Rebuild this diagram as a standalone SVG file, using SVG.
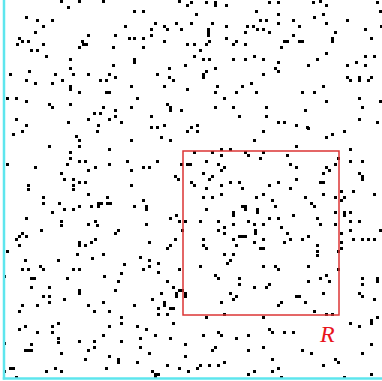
<svg xmlns="http://www.w3.org/2000/svg" width="382" height="381" viewBox="0 0 382 381">
<style>
.pts{fill:#000}
.axis{stroke:#5ee6ee;stroke-width:2.5;fill:none}
.reg{stroke:#dc3535;stroke-width:1.5;fill:none}
.lbl{font-family:"Liberation Serif",serif;font-style:italic;font-size:24px;fill:#e8141c}
</style>
<rect width="382" height="381" fill="#fff"/>
<g id="points">
<path class="pts" d="M60 0h3v3h-3z M67 6h3v3h-3z M78 0h3v3h-3z M102 0h3v3h-3z M25 16h3v3h-3z M36 19h3v3h-3z M42 25h3v3h-3z M51 19h3v3h-3z M124 25h3v3h-3z M34 31h3v3h-3z M18 37h3v3h-3z M21 40h3v3h-3z M27 40h3v3h-3z M16 43h3v3h-3z M42 43h3v3h-3z M87 34h3v3h-3z M81 40h3v3h-3z M82 43h3v3h-3z M85 43h3v3h-3z M78 46h3v3h-3z M114 34h3v3h-3z M112 46h3v3h-3z M30 49h3v3h-3z M36 49h3v3h-3z M45 55h3v3h-3z M69 58h3v3h-3z M69 67h3v3h-3z M112 64h3v3h-3z M28 70h3v3h-3z M9 73h3v3h-3z M54 73h3v3h-3z M72 73h3v3h-3z M87 73h3v3h-3z M108 73h3v3h-3z M114 76h3v3h-3z M25 79h3v3h-3z M61 79h3v3h-3z M99 79h3v3h-3z M105 79h3v3h-3z M34 82h3v3h-3z M51 82h3v3h-3z M69 85h3v3h-3z M69 88h3v3h-3z M78 91h3v3h-3z M105 91h3v3h-3z M108 91h3v3h-3z M6 97h3v3h-3z M15 97h3v3h-3z M25 100h3v3h-3z M48 103h3v3h-3z M51 106h3v3h-3z M69 103h3v3h-3z M102 106h3v3h-3z M114 109h3v3h-3z M93 112h3v3h-3z M99 112h3v3h-3z M114 115h3v3h-3z M15 118h3v3h-3z M87 118h3v3h-3z M108 118h3v3h-3z M120 121h3v3h-3z M67 121h3v3h-3z M25 124h3v3h-3z M97 124h3v3h-3z
M178 0h3v3h-3z M186 4h3v3h-3z M190 1h3v3h-3z M205 1h3v3h-3z M214 1h3v3h-3z M214 4h3v3h-3z M225 4h3v3h-3z M133 10h3v3h-3z M142 10h3v3h-3z M195 13h3v3h-3z M255 10h3v3h-3z M154 22h3v3h-3z M163 25h3v3h-3z M166 28h3v3h-3z M175 22h3v3h-3z M180 28h3v3h-3z M190 22h3v3h-3z M211 22h3v3h-3z M225 25h3v3h-3z M246 25h3v3h-3z M252 25h3v3h-3z M150 28h3v3h-3z M150 34h3v3h-3z M207 28h3v3h-3z M207 31h3v3h-3z M207 34h3v3h-3z M244 31h3v3h-3z M133 37h3v3h-3z M142 37h3v3h-3z M128 37h3v3h-3z M225 37h3v3h-3z M163 40h3v3h-3z M186 43h3v3h-3z M193 43h3v3h-3z M205 43h3v3h-3z M208 40h3v3h-3z M232 43h3v3h-3z M235 40h3v3h-3z M244 43h3v3h-3z M142 46h3v3h-3z M199 49h3v3h-3z M193 55h3v3h-3z M202 58h3v3h-3z M208 58h3v3h-3z M232 58h3v3h-3z M244 58h3v3h-3z M253 55h3v3h-3z M133 58h3v3h-3z M133 61h3v3h-3z M184 64h3v3h-3z M168 67h3v3h-3z M214 67h3v3h-3z M205 70h3v3h-3z M202 73h3v3h-3z M202 76h3v3h-3z M156 73h3v3h-3z M168 76h3v3h-3z M172 79h3v3h-3z M130 85h3v3h-3z M163 85h3v3h-3z M186 88h3v3h-3z M216 85h3v3h-3z M214 91h3v3h-3z M235 91h3v3h-3z M241 85h3v3h-3z M250 82h3v3h-3z M255 91h3v3h-3z M136 97h3v3h-3z M223 97h3v3h-3z M130 106h3v3h-3z M166 103h3v3h-3z M169 106h3v3h-3z M169 109h3v3h-3z M180 109h3v3h-3z M214 106h3v3h-3z M232 106h3v3h-3z M238 115h3v3h-3z M150 115h3v3h-3z M150 126h3v3h-3z M156 126h3v3h-3z M163 124h3v3h-3z M190 126h3v3h-3z M196 124h3v3h-3z
M268 1h3v3h-3z M277 1h3v3h-3z M312 1h3v3h-3z M319 0h3v3h-3z M325 4h3v3h-3z M376 1h3v3h-3z M277 13h3v3h-3z M379 10h3v3h-3z M322 13h3v3h-3z M313 16h3v3h-3z M259 19h3v3h-3z M265 19h3v3h-3z M292 19h3v3h-3z M346 19h3v3h-3z M277 22h3v3h-3z M325 22h3v3h-3z M298 25h3v3h-3z M380 25h3v3h-3z M256 28h3v3h-3z M262 28h3v3h-3z M268 31h3v3h-3z M364 28h3v3h-3z M334 31h3v3h-3z M292 34h3v3h-3z M370 37h3v3h-3z M283 40h3v3h-3z M286 40h3v3h-3z M298 40h3v3h-3z M301 40h3v3h-3z M331 37h3v3h-3z M331 40h3v3h-3z M280 46h3v3h-3z M325 52h3v3h-3z M262 58h3v3h-3z M316 58h3v3h-3z M277 61h3v3h-3z M364 55h3v3h-3z M373 55h3v3h-3z M307 64h3v3h-3z M346 64h3v3h-3z M355 61h3v3h-3z M364 64h3v3h-3z M274 67h3v3h-3z M277 70h3v3h-3z M262 73h3v3h-3z M346 76h3v3h-3z M349 79h3v3h-3z M358 76h3v3h-3z M358 79h3v3h-3z M367 79h3v3h-3z M370 76h3v3h-3z M322 85h3v3h-3z M301 91h3v3h-3z M313 91h3v3h-3z M325 100h3v3h-3z M358 97h3v3h-3z M379 100h3v3h-3z M265 106h3v3h-3z M304 109h3v3h-3z M361 106h3v3h-3z M265 115h3v3h-3z M358 118h3v3h-3z M277 121h3v3h-3z M283 121h3v3h-3z M295 124h3v3h-3z M306 126h3v3h-3z M376 121h3v3h-3z
M12 133h3v3h-3z M21 130h3v3h-3z M96 130h3v3h-3z M75 135h3v3h-3z M78 139h3v3h-3z M78 145h3v3h-3z M48 145h3v3h-3z M108 148h3v3h-3z M69 151h3v3h-3z M69 157h3v3h-3z M6 163h3v3h-3z M34 166h3v3h-3z M66 163h3v3h-3z M78 160h3v3h-3z M84 160h3v3h-3z M108 163h3v3h-3z M126 160h3v3h-3z M87 169h3v3h-3z M94 166h3v3h-3z M60 172h3v3h-3z M63 178h3v3h-3z M72 178h3v3h-3z M78 181h3v3h-3z M84 181h3v3h-3z M27 184h3v3h-3z M27 188h3v3h-3z M72 184h3v3h-3z M72 188h3v3h-3z M87 193h3v3h-3z M42 196h3v3h-3z M42 202h3v3h-3z M58 202h3v3h-3z M106 196h3v3h-3z M63 208h3v3h-3z M72 208h3v3h-3z M78 205h3v3h-3z M90 205h3v3h-3z M97 202h3v3h-3z M97 205h3v3h-3z M100 202h3v3h-3z M106 202h3v3h-3z M109 202h3v3h-3z M51 211h3v3h-3z M25 217h3v3h-3z M60 220h3v3h-3z M60 224h3v3h-3z M87 223h3v3h-3z M94 220h3v3h-3z M96 224h3v3h-3z M40 229h3v3h-3z M117 229h3v3h-3z M114 232h3v3h-3z M21 232h3v3h-3z M18 235h3v3h-3z M25 235h3v3h-3z M15 238h3v3h-3z M78 241h3v3h-3z M78 244h3v3h-3z M84 244h3v3h-3z M90 241h3v3h-3z M94 238h3v3h-3z M18 244h3v3h-3z M6 250h3v3h-3z M76 253h3v3h-3z M102 253h3v3h-3z
M186 130h3v3h-3z M196 130h3v3h-3z M160 136h3v3h-3z M169 139h3v3h-3z M130 139h3v3h-3z M253 139h3v3h-3z M193 151h3v3h-3z M211 151h3v3h-3z M220 148h3v3h-3z M229 148h3v3h-3z M244 151h3v3h-3z M220 154h3v3h-3z M247 154h3v3h-3z M156 160h3v3h-3z M180 163h3v3h-3z M186 163h3v3h-3z M189 163h3v3h-3z M205 160h3v3h-3z M217 163h3v3h-3z M223 166h3v3h-3z M220 169h3v3h-3z M130 169h3v3h-3z M142 166h3v3h-3z M148 166h3v3h-3z M202 172h3v3h-3z M211 175h3v3h-3z M208 178h3v3h-3z M174 175h3v3h-3z M177 178h3v3h-3z M190 181h3v3h-3z M193 184h3v3h-3z M220 184h3v3h-3z M229 181h3v3h-3z M238 181h3v3h-3z M130 184h3v3h-3z M205 187h3v3h-3z M241 187h3v3h-3z M220 193h3v3h-3z M211 196h3v3h-3z M202 196h3v3h-3z M255 196h3v3h-3z M142 199h3v3h-3z M133 205h3v3h-3z M145 205h3v3h-3z M145 208h3v3h-3z M205 208h3v3h-3z M241 205h3v3h-3z M244 205h3v3h-3z M244 208h3v3h-3z M232 211h3v3h-3z M175 214h3v3h-3z M169 217h3v3h-3z M178 220h3v3h-3z M184 220h3v3h-3z M199 220h3v3h-3z M217 220h3v3h-3z M232 214h3v3h-3z M247 220h3v3h-3z M145 223h3v3h-3z M223 226h3v3h-3z M232 223h3v3h-3z M217 229h3v3h-3z M181 229h3v3h-3z M254 229h3v3h-3z M223 232h3v3h-3z M254 232h3v3h-3z M238 235h3v3h-3z M241 235h3v3h-3z M244 235h3v3h-3z M232 238h3v3h-3z M202 238h3v3h-3z M174 238h3v3h-3z M148 241h3v3h-3z M169 244h3v3h-3z M166 247h3v3h-3z M202 244h3v3h-3z M205 247h3v3h-3z M235 244h3v3h-3z M253 241h3v3h-3z M223 253h3v3h-3z M232 253h3v3h-3z
M262 130h3v3h-3z M307 127h3v3h-3z M325 136h3v3h-3z M331 133h3v3h-3z M343 130h3v3h-3z M295 145h3v3h-3z M349 148h3v3h-3z M262 151h3v3h-3z M259 157h3v3h-3z M286 154h3v3h-3z M337 157h3v3h-3z M349 160h3v3h-3z M361 160h3v3h-3z M289 163h3v3h-3z M295 166h3v3h-3z M334 163h3v3h-3z M325 166h3v3h-3z M328 169h3v3h-3z M322 172h3v3h-3z M358 172h3v3h-3z M361 175h3v3h-3z M361 178h3v3h-3z M295 178h3v3h-3z M277 181h3v3h-3z M319 181h3v3h-3z M322 181h3v3h-3z M268 184h3v3h-3z M289 187h3v3h-3z M340 190h3v3h-3z M352 190h3v3h-3z M373 193h3v3h-3z M262 193h3v3h-3z M322 193h3v3h-3z M304 196h3v3h-3z M334 196h3v3h-3z M343 196h3v3h-3z M340 199h3v3h-3z M271 199h3v3h-3z M310 202h3v3h-3z M313 205h3v3h-3z M274 205h3v3h-3z M256 208h3v3h-3z M256 211h3v3h-3z M343 211h3v3h-3z M343 214h3v3h-3z M334 211h3v3h-3z M349 211h3v3h-3z M292 214h3v3h-3z M268 217h3v3h-3z M277 217h3v3h-3z M316 217h3v3h-3z M253 223h3v3h-3z M262 223h3v3h-3z M319 223h3v3h-3z M334 223h3v3h-3z M349 220h3v3h-3z M358 220h3v3h-3z M280 226h3v3h-3z M349 229h3v3h-3z M379 229h3v3h-3z M286 232h3v3h-3z M340 232h3v3h-3z M262 238h3v3h-3z M289 238h3v3h-3z M301 238h3v3h-3z M307 235h3v3h-3z M352 238h3v3h-3z M361 238h3v3h-3z M367 238h3v3h-3z M373 238h3v3h-3z M283 241h3v3h-3z M259 247h3v3h-3z M262 247h3v3h-3z M316 244h3v3h-3z M316 250h3v3h-3z M340 247h3v3h-3z M337 250h3v3h-3z M340 241h3v3h-3z
M24 259h3v3h-3z M57 259h3v3h-3z M91 257h3v3h-3z M123 263h3v3h-3z M21 268h3v3h-3z M27 268h3v3h-3z M39 265h3v3h-3z M42 268h3v3h-3z M72 268h3v3h-3z M78 268h3v3h-3z M3 275h3v3h-3z M30 277h3v3h-3z M33 277h3v3h-3z M66 277h3v3h-3z M103 275h3v3h-3z M117 280h3v3h-3z M120 272h3v3h-3z M30 286h3v3h-3z M48 286h3v3h-3z M78 289h3v3h-3z M78 292h3v3h-3z M114 289h3v3h-3z M42 295h3v3h-3z M48 295h3v3h-3z M63 298h3v3h-3z M48 301h3v3h-3z M21 304h3v3h-3z M36 304h3v3h-3z M87 304h3v3h-3z M102 301h3v3h-3z M18 310h3v3h-3z M93 310h3v3h-3z M108 310h3v3h-3z M120 316h3v3h-3z M120 322h3v3h-3z M108 325h3v3h-3z M24 325h3v3h-3z M18 328h3v3h-3z M51 325h3v3h-3z M57 322h3v3h-3z M36 331h3v3h-3z M51 331h3v3h-3z M102 334h3v3h-3z M57 337h3v3h-3z M57 341h3v3h-3z M78 340h3v3h-3z M93 340h3v3h-3z M120 340h3v3h-3z M3 342h3v3h-3z M30 343h3v3h-3z M24 349h3v3h-3z M27 349h3v3h-3z M30 349h3v3h-3z M93 346h3v3h-3z M87 349h3v3h-3z M60 352h3v3h-3z M108 355h3v3h-3z M84 358h3v3h-3z M117 358h3v3h-3z M117 361h3v3h-3z M9 367h3v3h-3z M12 367h3v3h-3z M3 370h3v3h-3z M105 367h3v3h-3z M45 370h3v3h-3z M54 367h3v3h-3z M60 370h3v3h-3z M15 376h3v3h-3z
M139 256h3v3h-3z M148 259h3v3h-3z M142 268h3v3h-3z M148 265h3v3h-3z M157 262h3v3h-3z M157 271h3v3h-3z M178 268h3v3h-3z M199 265h3v3h-3z M229 259h3v3h-3z M226 262h3v3h-3z M214 274h3v3h-3z M217 277h3v3h-3z M238 277h3v3h-3z M238 283h3v3h-3z M166 280h3v3h-3z M172 286h3v3h-3z M178 289h3v3h-3z M181 289h3v3h-3z M160 292h3v3h-3z M175 292h3v3h-3z M175 295h3v3h-3z M184 292h3v3h-3z M184 295h3v3h-3z M151 298h3v3h-3z M229 292h3v3h-3z M235 295h3v3h-3z M232 298h3v3h-3z M253 286h3v3h-3z M163 301h3v3h-3z M163 304h3v3h-3z M133 304h3v3h-3z M157 307h3v3h-3z M169 307h3v3h-3z M172 307h3v3h-3z M220 301h3v3h-3z M157 313h3v3h-3z M166 313h3v3h-3z M223 313h3v3h-3z M172 322h3v3h-3z M205 316h3v3h-3z M136 325h3v3h-3z M145 328h3v3h-3z M154 334h3v3h-3z M139 337h3v3h-3z M169 337h3v3h-3z M202 334h3v3h-3z M217 331h3v3h-3z M220 334h3v3h-3z M235 337h3v3h-3z M247 334h3v3h-3z M139 346h3v3h-3z M184 343h3v3h-3z M214 346h3v3h-3z M211 349h3v3h-3z M247 349h3v3h-3z M148 352h3v3h-3z M184 355h3v3h-3z M136 361h3v3h-3z M166 364h3v3h-3z M178 367h3v3h-3z M187 370h3v3h-3z M196 367h3v3h-3z M199 364h3v3h-3z M208 364h3v3h-3z M217 364h3v3h-3z M223 361h3v3h-3z M151 370h3v3h-3z M154 373h3v3h-3z M157 373h3v3h-3z M154 376h3v3h-3z M247 373h3v3h-3z M253 370h3v3h-3z
M316 254h3v3h-3z M262 265h3v3h-3z M274 265h3v3h-3z M277 268h3v3h-3z M307 265h3v3h-3z M337 268h3v3h-3z M319 277h3v3h-3z M325 274h3v3h-3z M328 280h3v3h-3z M307 280h3v3h-3z M268 283h3v3h-3z M265 286h3v3h-3z M361 277h3v3h-3z M361 283h3v3h-3z M376 277h3v3h-3z M376 280h3v3h-3z M322 292h3v3h-3z M295 295h3v3h-3z M298 295h3v3h-3z M358 292h3v3h-3z M361 295h3v3h-3z M373 298h3v3h-3z M304 301h3v3h-3z M280 301h3v3h-3z M277 304h3v3h-3z M313 310h3v3h-3z M325 313h3v3h-3z M331 313h3v3h-3z M262 316h3v3h-3z M349 322h3v3h-3z M358 325h3v3h-3z M370 319h3v3h-3z M370 322h3v3h-3z M376 316h3v3h-3z M268 328h3v3h-3z M271 331h3v3h-3z M283 331h3v3h-3z M292 331h3v3h-3z M370 343h3v3h-3z M262 346h3v3h-3z M301 349h3v3h-3z M310 352h3v3h-3z M361 352h3v3h-3z M271 358h3v3h-3z M334 358h3v3h-3z M337 361h3v3h-3z M322 364h3v3h-3z M277 367h3v3h-3z M271 370h3v3h-3z M280 376h3v3h-3z M343 376h3v3h-3z M370 373h3v3h-3z"/>
</g>
<g id="region-R">
<rect class="reg" x="183" y="151" width="156" height="164"/>
<text class="lbl" x="320" y="342">R</text>
</g>
<g id="axes">
<line class="axis" x1="4" y1="0" x2="4" y2="379.5"/>
<line class="axis" x1="2.8" y1="378.5" x2="382" y2="378.5"/>
</g>
</svg>
